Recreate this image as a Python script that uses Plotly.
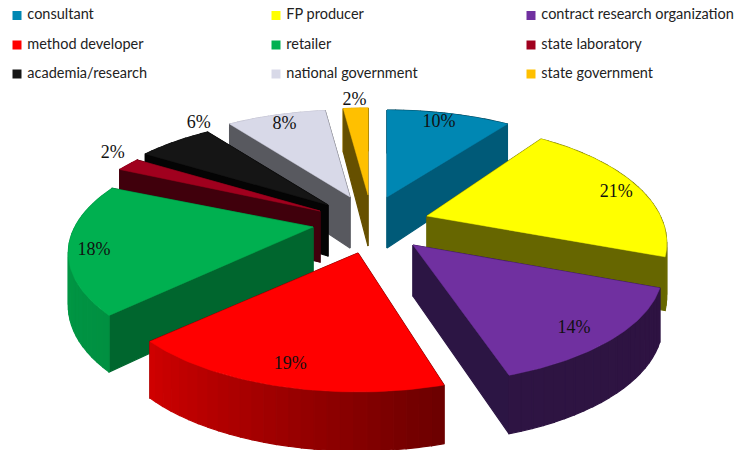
import numpy as np
import plotly.graph_objects as go

categories = ["consultant", "FP producer", "contract research organization",
              "method developer", "retailer", "state laboratory",
              "academia/research", "national government", "state government"]
percent = [10, 21, 14, 19, 18, 2, 6, 8, 2]

# styling
top_colors = ["#0087B3", "#FFFF00", "#7030A0", "#FF0000", "#00B050", "#A0001E", "#151515", "#D8D9E8", "#FFC000"]
cut_colors = ["#005A78", "#666600", "#2C1544", "#6B0000", "#00662E", "#40000C", "#040404", "#58595F", "#665000"]
# explosion of each slice from the pie centre, in axis units
pull_x = [19, 59, 45, -10, -55, -48, -40, -18, 0]
pull_y = [-25, -6, 23, 31, 5, -11, -17, -25, -27]
# small perspective corrections of each slice (degrees at its two edges, radial scale)
adj_start = [0, -0.5, 0, 2, -4.4, 0, 0, 0, 0]
adj_end = [0, -2, 0, -4.4, -2, 0, 0, 0, 0]
scale_x = [1, 0.96, 1, 1, 0.98, 1, 1, 1, 1]
scale_y = [1, 1.05, 1, 1, 1, 1, 1, 1, 1]
label_r = [0.87, 0.88, 0.87, 0.87, 0.90, 1.15, 1.13, 0.87, 1.11]
label_da = [-1, 3, 3, 0, -3, 3.4, 12, 0, 0]
draw_order = [8, 7, 6, 5, 0, 4, 3, 1, 2]
CX, CY, A, B, K = 368, 222, 243, 107, 0.23


def to_rgb(h):
    return np.array([int(h[i:i + 2], 16) for i in (1, 3, 5)], float)


def shade(h, f):
    r, g, b = (to_rgb(h) * f).astype(int)
    return f"rgb({r},{g},{b})"


def wall_factor(t):
    return float(np.interp(t, [0, 164, 226, 270, 360], [0.40, 0.42, 0.82, 0.88, 0.88]))


def proj(i, t, r=1.0):
    th = np.radians(t)
    s = 1 / (1 + K * r * np.cos(th))
    return (CX + pull_x[i] + scale_x[i] * A * r * np.sin(th) * s,
            CY + pull_y[i] - scale_y[i] * B * r * np.cos(th) * s)


def depth(t, r=1.0):
    return 51 - 8 * r * np.cos(np.radians(t))


edges = np.concatenate([[0], np.cumsum(percent)]) * 3.6
starts = edges[:-1] + np.array(adj_start)
ends = edges[1:] + np.array(adj_end)
fig = go.Figure()


def poly(xs, ys, color, w=0.6):
    fig.add_trace(go.Scatter(x=xs, y=ys, mode="lines", fill="toself", fillcolor=color,
                             line=dict(color=color, width=w), hoverinfo="skip", showlegend=False))


for i in draw_order:
    t0, t1 = starts[i], ends[i]
    ax, ay = CX + pull_x[i], CY + pull_y[i]
    faces = []
    ts = np.arange(t0, t1 + 2.4, 2.4)
    ts = ts[ts <= t1]
    if ts[-1] != t1:
        ts = np.append(ts, t1)
    for a, b in zip(ts[:-1], ts[1:]):
        xa, ya = proj(i, a)
        xb, yb = proj(i, b)
        m = (a + b) / 2
        faces.append((np.cos(np.radians(m)),
                      [xa, xb, xb, xa, xa],
                      [ya, yb, yb + depth(b), ya + depth(a), ya],
                      shade(top_colors[i], wall_factor(m))))
    for t in (t0, t1):
        xr, yr = proj(i, t)
        faces.append((0.5 * np.cos(np.radians(t)),
                      [ax, xr, xr, ax, ax],
                      [ay, yr, yr + depth(t), ay + depth(t, 0), ay],
                      cut_colors[i]))
    for _, xs, ys, c in sorted(faces, key=lambda f: -f[0]):
        poly(xs, ys, c, 1.2)
    arc = np.linspace(t0, t1, 60)
    px, py = proj(i, arc)
    poly(np.concatenate([[ax], px, [ax]]), np.concatenate([[ay], py, [ay]]), top_colors[i], 0.5)

# percentage labels
lx, ly = [], []
for i in range(len(percent)):
    mid = (starts[i] + ends[i]) / 2 + label_da[i]
    x, y = proj(i, mid, label_r[i])
    lx.append(x)
    ly.append(y)
fig.add_trace(go.Scatter(x=lx, y=ly, mode="text", text=[f"{v}%" for v in percent],
                         textposition="middle center",
                         textfont=dict(family="Liberation Serif", size=18, color="#111111"),
                         hoverinfo="skip", showlegend=False))

# legend block: three columns, three rows
col_x = [17, 276, 531]
row_y = [15.5, 45, 74]
for i, name in enumerate(categories):
    fig.add_trace(go.Scatter(x=[col_x[i % 3]], y=[row_y[i // 3]], mode="markers+text", name=name,
                             text=[" " + name], textposition="middle right",
                             marker=dict(symbol="square", size=9, color=top_colors[i]),
                             textfont=dict(family="Lato", size=14.5, color="#222222"),
                             hoverinfo="name", showlegend=False))

fig.update_layout(width=742, height=450, margin=dict(l=0, r=0, t=0, b=0),
                  paper_bgcolor="white", plot_bgcolor="white", showlegend=False,
                  xaxis=dict(range=[0, 742], visible=False, fixedrange=True),
                  yaxis=dict(range=[450, 0], visible=False, fixedrange=True))
fig.write_html("out.html", config={"displayModeBar": False},
               post_script="document.body.style.margin='0';document.body.style.overflow='hidden';")
